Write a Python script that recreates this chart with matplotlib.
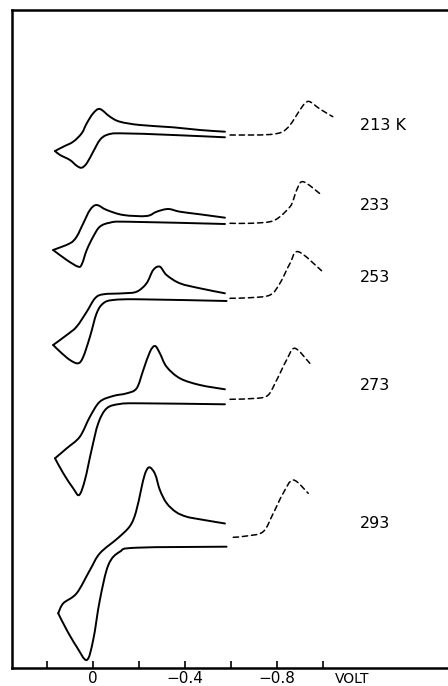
import matplotlib
matplotlib.use("Agg")
import matplotlib.pyplot as plt
import numpy as np
from matplotlib.path import Path
from matplotlib.patches import PathPatch

# Cyclic voltammograms at five temperatures (potential in V, current in arbitrary units,
# each relative to its own baseline at -0.6 V)
temps = ["213 K", "233", "253", "273", "293"]
offsets = [53.07, 44.4, 36.7, 26.37, 12.13]
label_y = [54.3, 46.3, 39.1, 28.3, 14.5]

# 213 K
e_up_213 = [-0.574, -0.465, -0.348, -0.204, -0.117, -0.074, -0.030, -0.001, 0.027, 0.049, 0.086, 0.129, 0.165]
i_up_213 = [0.56, 0.73, 1.00, 1.23, 1.56, 2.06, 2.83, 2.40, 1.40, 0.40, -0.44, -0.94, -1.37]
e_lo_213 = [0.165, 0.143, 0.100, 0.071, 0.049, 0.027, -0.001, -0.030, -0.060, -0.117, -0.348, -0.574]
i_lo_213 = [-1.37, -1.77, -2.27, -2.84, -3.04, -2.60, -1.44, -0.27, 0.23, 0.40, 0.23, 0.00]
e_ext_213 = [-0.596, -0.683, -0.770, -0.822, -0.857, -0.900, -0.922, -0.943, -0.987, -1.043]
i_ext_213 = [0.23, 0.23, 0.28, 0.53, 1.23, 2.73, 3.40, 3.56, 2.83, 2.06]

# 233 K
e_up_233 = [-0.574, -0.465, -0.378, -0.327, -0.277, -0.233, -0.132, -0.060, -0.016, 0.013, 0.042, 0.071, 0.100, 0.173]
i_up_233 = [0.63, 0.97, 1.23, 1.50, 1.23, 0.80, 0.90, 1.40, 1.90, 1.40, 0.07, -1.27, -1.93, -2.60]
e_lo_233 = [0.173, 0.114, 0.064, 0.048, 0.027, -0.001, -0.030, -0.074, -0.147, -0.574]
i_lo_233 = [-2.60, -3.60, -4.27, -4.00, -2.60, -1.27, -0.27, 0.13, 0.23, 0.00]
e_ext_233 = [-0.596, -0.683, -0.770, -0.813, -0.857, -0.871, -0.886, -0.914, -0.994]
i_ext_233 = [0.07, 0.07, 0.23, 0.73, 1.73, 2.40, 3.40, 4.23, 2.90]

# 253 K
e_up_253 = [-0.574, -0.465, -0.378, -0.320, -0.291, -0.262, -0.233, -0.190, -0.132, -0.045, -0.009, 0.027, 0.071, 0.114, 0.173]
i_up_253 = [0.77, 1.27, 1.77, 2.60, 3.43, 3.10, 1.77, 0.93, 0.77, 0.67, 0.27, -1.07, -2.57, -3.40, -4.40]
e_lo_253 = [0.173, 0.143, 0.100, 0.064, 0.042, 0.013, -0.016, -0.045, -0.088, -0.204, -0.581]
i_lo_253 = [-4.40, -5.07, -5.90, -6.23, -5.57, -3.57, -1.23, -0.23, 0.10, 0.17, 0.00]
e_ext_253 = [-0.596, -0.683, -0.770, -0.813, -0.857, -0.893, -0.994]
i_ext_253 = [0.27, 0.33, 0.60, 1.77, 3.77, 4.93, 3.03]

# 273 K
e_up_273 = [-0.574, -0.465, -0.378, -0.320, -0.291, -0.270, -0.248, -0.219, -0.190, -0.147, -0.088, -0.030, 0.013, 0.057, 0.114, 0.165]
i_up_273 = [1.50, 1.93, 2.60, 3.76, 5.10, 5.83, 5.26, 3.43, 1.60, 1.10, 0.83, 0.26, -1.24, -3.24, -4.40, -5.40]
e_lo_273 = [0.165, 0.129, 0.086, 0.060, 0.035, 0.006, -0.023, -0.060, -0.117, -0.204, -0.574]
i_lo_273 = [-5.40, -6.90, -8.40, -9.07, -7.57, -4.57, -1.90, -0.40, 0.03, 0.10, 0.00]
e_ext_273 = [-0.596, -0.712, -0.762, -0.799, -0.842, -0.878, -0.943]
i_ext_273 = [0.50, 0.60, 0.93, 2.43, 4.43, 5.60, 4.10]

# 293 K
e_up_293 = [-0.574, -0.465, -0.407, -0.361, -0.320, -0.291, -0.270, -0.245, -0.226, -0.209, -0.187, -0.161, -0.109, -0.030, 0.013, 0.071, 0.129, 0.151]
i_up_293 = [2.32, 2.74, 3.00, 3.47, 4.37, 5.67, 7.27, 7.94, 7.27, 5.67, 3.47, 2.07, 0.87, -0.66, -2.33, -4.66, -5.66, -6.66]
e_lo_293 = [0.151, 0.114, 0.071, 0.027, -0.001, -0.030, -0.067, -0.117, -0.190, -0.581]
i_lo_293 = [-6.66, -8.33, -10.00, -11.33, -9.33, -5.33, -1.83, -0.50, -0.10, 0.00]
e_ext_293 = [-0.610, -0.668, -0.740, -0.784, -0.827, -0.871, -0.936]
i_ext_293 = [0.94, 1.07, 1.50, 3.34, 5.34, 6.67, 5.34]

curves = [
    (e_up_213, i_up_213, e_lo_213, i_lo_213, e_ext_213, i_ext_213),
    (e_up_233, i_up_233, e_lo_233, i_lo_233, e_ext_233, i_ext_233),
    (e_up_253, i_up_253, e_lo_253, i_lo_253, e_ext_253, i_ext_253),
    (e_up_273, i_up_273, e_lo_273, i_lo_273, e_ext_273, i_ext_273),
    (e_up_293, i_up_293, e_lo_293, i_lo_293, e_ext_293, i_ext_293),
]

tick_pos = [0.2, 0.0, -0.2, -0.4, -0.6, -0.8, -1.0]
tick_txt = ["", "0", "", "\u22120.4", "", "\u22120.8", ""]


def smooth_path(x, y):
    # pass a cubic Bezier through every point (Catmull-Rom style handles)
    p = np.column_stack([x, y]).astype(float)
    q = np.vstack([p[0], p, p[-1]])
    verts = [p[0]]
    codes = [Path.MOVETO]
    for k in range(len(p) - 1):
        c1 = q[k + 1] + (q[k + 2] - q[k]) / 6.0
        c2 = q[k + 2] - (q[k + 3] - q[k + 1]) / 6.0
        verts += [c1, c2, q[k + 2]]
        codes += [Path.CURVE4] * 3
    return Path(verts, codes)


def draw_trace(ax, x, y, **kw):
    ax.add_patch(PathPatch(smooth_path(x, y), fill=False, edgecolor="black",
                           capstyle="round", joinstyle="round", **kw))


def main():
    fig = plt.figure(figsize=(4.48, 6.86), dpi=100)
    ax = fig.add_axes([12 / 448, 18 / 686, 1.0, 658 / 686])

    for (eu, iu, el, il, ex, ix), off in zip(curves, offsets):
        # solid cyclic scan, then the extended sweep drawn dashed
        draw_trace(ax, eu, np.array(iu) + off, lw=1.4)
        draw_trace(ax, el, np.array(il) + off, lw=1.4)
        draw_trace(ax, ex, np.array(ix) + off, lw=1.1, linestyle=(0, (3.5, 2.5)))

    for name, y in zip(temps, label_y):
        ax.text(-1.161, y, name, fontsize=11.5, ha="left", va="center")

    ax.set_xlim(0.352, -1.596)
    ax.set_ylim(0, 65.8)

    ax.set_xticks(tick_pos)
    ax.set_xticklabels(tick_txt, fontsize=11)
    ax.tick_params(axis="x", direction="in", length=5, width=1.2, pad=2.5)
    ax.set_yticks([])
    ax.text(-1.126, -0.0235, "VOLT", fontsize=10, ha="center", va="baseline",
            transform=ax.get_xaxis_transform())

    for s in ["left", "top", "bottom"]:
        ax.spines[s].set_linewidth(1.8)
    ax.spines["right"].set_visible(False)

    fig.savefig("out.png", dpi=100)


if __name__ == "__main__":
    main()
